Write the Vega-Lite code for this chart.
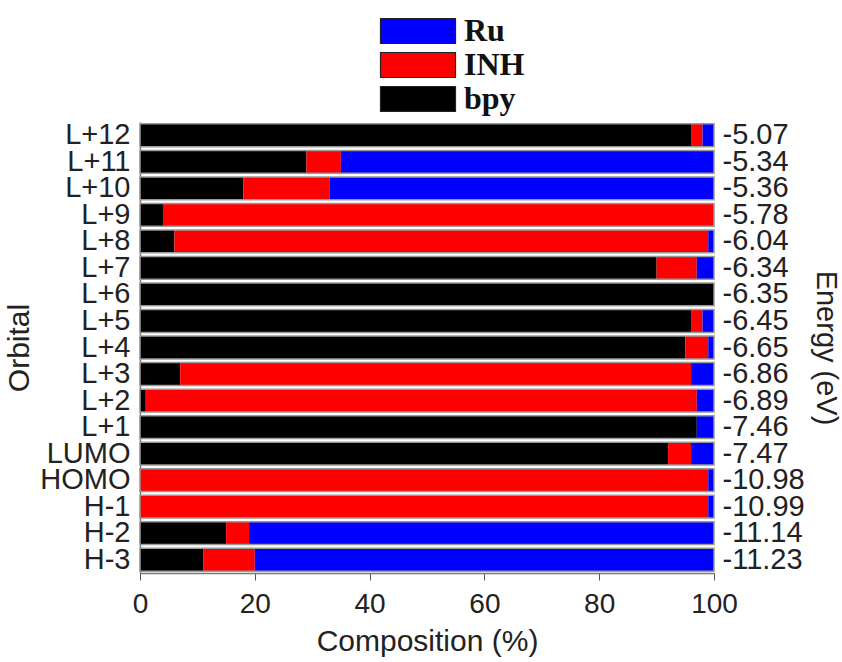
{
  "$schema": "https://vega.github.io/schema/vega-lite/v6.json",
  "autosize": {"type": "none"},
  "width": 574,
  "height": 451,
  "padding": {"left": 140, "top": 122, "right": 128, "bottom": 89},
  "background": "white",
  "config": {"view": {"stroke": null}, "font": "Liberation Sans"},
  "datasets": {
    "comp": [
      {"orbital": "L+12", "energy": "-5.07", "component": "bpy", "value": 96},
      {"orbital": "L+12", "energy": "-5.07", "component": "INH", "value": 2},
      {"orbital": "L+12", "energy": "-5.07", "component": "Ru", "value": 2},
      {"orbital": "L+11", "energy": "-5.34", "component": "bpy", "value": 29},
      {"orbital": "L+11", "energy": "-5.34", "component": "INH", "value": 6},
      {"orbital": "L+11", "energy": "-5.34", "component": "Ru", "value": 65},
      {"orbital": "L+10", "energy": "-5.36", "component": "bpy", "value": 18},
      {"orbital": "L+10", "energy": "-5.36", "component": "INH", "value": 15},
      {"orbital": "L+10", "energy": "-5.36", "component": "Ru", "value": 67},
      {"orbital": "L+9", "energy": "-5.78", "component": "bpy", "value": 4},
      {"orbital": "L+9", "energy": "-5.78", "component": "INH", "value": 96},
      {"orbital": "L+9", "energy": "-5.78", "component": "Ru", "value": 0},
      {"orbital": "L+8", "energy": "-6.04", "component": "bpy", "value": 6},
      {"orbital": "L+8", "energy": "-6.04", "component": "INH", "value": 93},
      {"orbital": "L+8", "energy": "-6.04", "component": "Ru", "value": 1},
      {"orbital": "L+7", "energy": "-6.34", "component": "bpy", "value": 90},
      {"orbital": "L+7", "energy": "-6.34", "component": "INH", "value": 7},
      {"orbital": "L+7", "energy": "-6.34", "component": "Ru", "value": 3},
      {"orbital": "L+6", "energy": "-6.35", "component": "bpy", "value": 100},
      {"orbital": "L+6", "energy": "-6.35", "component": "INH", "value": 0},
      {"orbital": "L+6", "energy": "-6.35", "component": "Ru", "value": 0},
      {"orbital": "L+5", "energy": "-6.45", "component": "bpy", "value": 96},
      {"orbital": "L+5", "energy": "-6.45", "component": "INH", "value": 2},
      {"orbital": "L+5", "energy": "-6.45", "component": "Ru", "value": 2},
      {"orbital": "L+4", "energy": "-6.65", "component": "bpy", "value": 95},
      {"orbital": "L+4", "energy": "-6.65", "component": "INH", "value": 4},
      {"orbital": "L+4", "energy": "-6.65", "component": "Ru", "value": 1},
      {"orbital": "L+3", "energy": "-6.86", "component": "bpy", "value": 7},
      {"orbital": "L+3", "energy": "-6.86", "component": "INH", "value": 89},
      {"orbital": "L+3", "energy": "-6.86", "component": "Ru", "value": 4},
      {"orbital": "L+2", "energy": "-6.89", "component": "bpy", "value": 1},
      {"orbital": "L+2", "energy": "-6.89", "component": "INH", "value": 96},
      {"orbital": "L+2", "energy": "-6.89", "component": "Ru", "value": 3},
      {"orbital": "L+1", "energy": "-7.46", "component": "bpy", "value": 97},
      {"orbital": "L+1", "energy": "-7.46", "component": "INH", "value": 0},
      {"orbital": "L+1", "energy": "-7.46", "component": "Ru", "value": 3},
      {"orbital": "LUMO", "energy": "-7.47", "component": "bpy", "value": 92},
      {"orbital": "LUMO", "energy": "-7.47", "component": "INH", "value": 4},
      {"orbital": "LUMO", "energy": "-7.47", "component": "Ru", "value": 4},
      {"orbital": "HOMO", "energy": "-10.98", "component": "bpy", "value": 0},
      {"orbital": "HOMO", "energy": "-10.98", "component": "INH", "value": 99},
      {"orbital": "HOMO", "energy": "-10.98", "component": "Ru", "value": 1},
      {"orbital": "H-1", "energy": "-10.99", "component": "bpy", "value": 0},
      {"orbital": "H-1", "energy": "-10.99", "component": "INH", "value": 99},
      {"orbital": "H-1", "energy": "-10.99", "component": "Ru", "value": 1},
      {"orbital": "H-2", "energy": "-11.14", "component": "bpy", "value": 15},
      {"orbital": "H-2", "energy": "-11.14", "component": "INH", "value": 4},
      {"orbital": "H-2", "energy": "-11.14", "component": "Ru", "value": 81},
      {"orbital": "H-3", "energy": "-11.23", "component": "bpy", "value": 11},
      {"orbital": "H-3", "energy": "-11.23", "component": "INH", "value": 9},
      {"orbital": "H-3", "energy": "-11.23", "component": "Ru", "value": 80}
    ]
  },
  "data": {"name": "comp"},
  "layer": [
    {
      "mark": {"type": "bar"},
      "encoding": {
        "y": {
          "field": "orbital", "type": "nominal",
          "sort": ["L+12","L+11","L+10","L+9","L+8","L+7","L+6","L+5","L+4","L+3","L+2","L+1","LUMO","HOMO","H-1","H-2","H-3"],
          "scale": {"paddingInner": 0.14, "paddingOuter": 0.07},
          "axis": {"title": "Orbital", "titleFontSize": 30, "titleFontWeight": "normal", "titleColor": "#222", "titleX": -106,
                   "labelFontSize": 29, "labelColor": "#222", "ticks": false, "labelPadding": 10, "domainColor": "#777", "domainWidth": 1.5}
        },
        "x": {
          "field": "value", "type": "quantitative", "stack": "zero",
          "scale": {"domain": [0, 100], "nice": false},
          "axis": {"title": "Composition (%)", "titleFontSize": 30, "titleFontWeight": "normal", "titleColor": "#222", "titlePadding": 8,
                   "values": [0,20,40,60,80,100], "labelFontSize": 28, "labelColor": "#222", "grid": false, "labelFlush": false,
                   "tickSize": 7, "tickColor": "#555", "domainColor": "#777", "domainWidth": 1.5, "labelPadding": 10}
        },
        "color": {
          "field": "component", "type": "nominal",
          "scale": {"domain": ["Ru","INH","bpy"], "range": ["#0000FF","#FF0000","#000000"]},
          "legend": {
            "orient": "none", "legendX": 262, "legendY": -107, "title": null,
            "symbolType": "M-3,-1H3V1H-3Z", "symbolSize": 625,
            "symbolStrokeColor": "#222", "symbolStrokeWidth": 1.2, "symbolOpacity": 1,
            "labelFont": "Liberation Serif", "labelFontWeight": "bold", "labelFontSize": 32, "labelColor": "#111",
            "rowPadding": 2, "labelOffset": 30
          }
        },
        "order": {"field": "orderKey", "type": "quantitative"}
      },
      "transform": [
        {"calculate": "datum.component === 'bpy' ? 0 : datum.component === 'INH' ? 1 : 2", "as": "orderKey"}
      ]
    },
    {
      "mark": {"type": "bar", "fill": null, "fillOpacity": 0, "stroke": "#999", "strokeWidth": 1.5},
      "encoding": {
        "y": {
          "field": "orbital", "type": "nominal",
          "sort": ["L+12","L+11","L+10","L+9","L+8","L+7","L+6","L+5","L+4","L+3","L+2","L+1","LUMO","HOMO","H-1","H-2","H-3"],
          "scale": {"paddingInner": 0.14, "paddingOuter": 0.07},
          "axis": null
        },
        "x": {"aggregate": "sum", "field": "value", "type": "quantitative"}
      }
    },
    {
      "mark": {"type": "bar", "opacity": 0},
      "encoding": {
        "y": {
          "field": "energy", "type": "nominal",
          "sort": ["-5.07","-5.34","-5.36","-5.78","-6.04","-6.34","-6.35","-6.45","-6.65","-6.86","-6.89","-7.46","-7.47","-10.98","-10.99","-11.14","-11.23"],
          "scale": {"paddingInner": 0.14, "paddingOuter": 0.07},
          "axis": {"orient": "right", "title": "Energy (eV)", "titleFontSize": 29, "titleFontWeight": "normal", "titleColor": "#222", "titleX": 96,
                   "labelFontSize": 29, "labelColor": "#222", "ticks": false, "labelPadding": 8, "domain": false}
        },
        "x": {"aggregate": "sum", "field": "value", "type": "quantitative"}
      }
    }
  ],
  "resolve": {"scale": {"y": "independent"}, "axis": {"y": "independent"}}
}
